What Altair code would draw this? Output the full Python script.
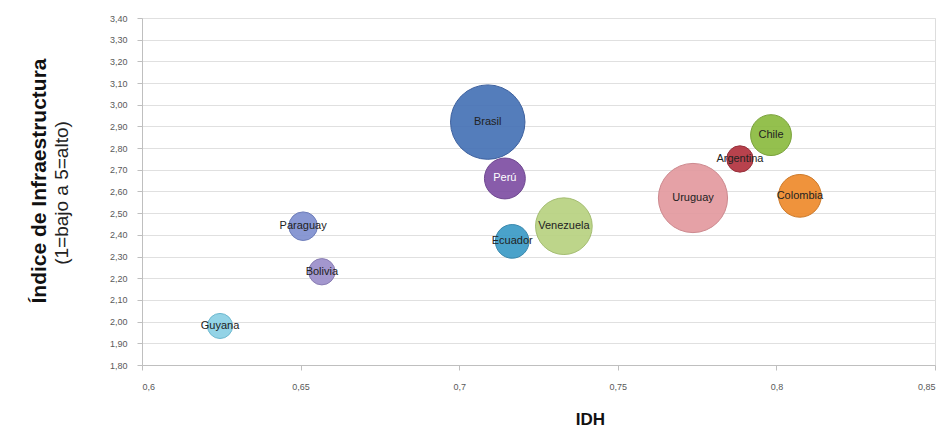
import altair as alt
import pandas as pd

paises = ["Brasil", "Uruguay", "Venezuela", "Colombia", "Perú", "Chile",
          "Ecuador", "Paraguay", "Bolivia", "Argentina", "Guyana"]
idh = [0.709, 0.7737, 0.733, 0.8074, 0.7144, 0.7983,
       0.7167, 0.6508, 0.6567, 0.7885, 0.6246]
infra = [2.92, 2.57, 2.44, 2.58, 2.66, 2.86,
         2.37, 2.44, 2.23, 2.75, 1.98]
tamano = [176, 152, 102, 58, 53, 53, 36, 26, 22, 22, 20]
colores = ["#4672b6", "#e39a9f", "#b8d281", "#ee8a2c", "#7e4fa3", "#8bbb40",
           "#3b9bc6", "#7f90d0", "#9c8fca", "#b3323e", "#8ad0e4"]
bordes = ["#2f5597", "#c97f85", "#9db866", "#c96f18", "#633888", "#6f9a2a",
          "#2a7ea6", "#6273b5", "#7f72ad", "#8e1f2a", "#62b3cc"]

y_ticks = [1.8, 1.9, 2.0, 2.1, 2.2, 2.3, 2.4, 2.5, 2.6, 2.7, 2.8,
           2.9, 3.0, 3.1, 3.2, 3.3, 3.4]
x_ticks = [0.6, 0.65, 0.7, 0.75, 0.8, 0.85]

df = pd.DataFrame({"pais": paises, "idh": idh, "infra": infra, "tamano": tamano})

FONT = "Liberation Sans"

x_enc = alt.X("idh:Q",
              scale=alt.Scale(domain=[0.6, 0.85], nice=False, zero=False),
              axis=alt.Axis(values=x_ticks, grid=False, title="IDH",
                            labelExpr="replace(format(datum.value, '.2~f'), '.', ',')",
                            labelFontSize=9, labelColor="#595959", labelPadding=12,
                            labelOverlap=False,
                            tickColor="#bfbfbf", tickSize=5, domainColor="#bfbfbf",
                            titleFontSize=17, titleFontWeight="bold", titleColor="#111",
                            titleX=448, titleY=59, titleBaseline="alphabetic",
                            titleFont=FONT, labelFont=FONT))
y_enc = alt.Y("infra:Q",
              scale=alt.Scale(domain=[1.8, 3.4], nice=False, zero=False),
              axis=alt.Axis(values=y_ticks, tickCount=17, grid=True, gridColor="#e0e0e0",
                            title=None, labelOverlap=False,
                            labelExpr="replace(format(datum.value, '.2f'), '.', ',')",
                            labelFontSize=9, labelColor="#595959", labelPadding=10,
                            tickColor="#bfbfbf", tickSize=5, domainColor="#bfbfbf",
                            labelFont=FONT))

base = alt.Chart(df)

burbujas = base.mark_circle(opacity=0.92, strokeWidth=1).encode(
    x=x_enc,
    y=y_enc,
    size=alt.Size("tamano:Q", scale=alt.Scale(domain=[0, 176], range=[0, 5542]), legend=None),
    color=alt.Color("pais:N", scale=alt.Scale(domain=paises, range=colores), legend=None),
    stroke=alt.Stroke("pais:N", scale=alt.Scale(domain=paises, range=bordes), legend=None),
)

etiquetas = base.mark_text(fontSize=11, font=FONT, align="center", baseline="middle").encode(
    x=x_enc,
    y=y_enc,
    text="pais:N",
    color=alt.condition(alt.datum.pais == "Perú", alt.value("white"), alt.value("#222222")),
)

titulo1 = alt.Chart(alt.Data(values=[{"t": "Índice de Infraestructura"}])).mark_text(
    angle=270, fontSize=21, fontWeight="bold", font=FONT, color="#111",
    align="center", baseline="middle"
).encode(x=alt.value(-102), y=alt.value(163), text="t:N")

titulo2 = alt.Chart(alt.Data(values=[{"t": "(1=bajo a 5=alto)"}])).mark_text(
    angle=270, fontSize=19, font=FONT, color="#222",
    align="center", baseline="middle"
).encode(x=alt.value(-80), y=alt.value(175), text="t:N")

chart = alt.layer(burbujas, etiquetas, titulo1, titulo2).properties(
    width=793, height=347,
    autosize=alt.AutoSizeParams(type="none"),
    padding={"left": 134, "top": 10, "right": 6, "bottom": 65},
).configure_view(stroke=None).configure(background="white")

chart.save("out.html", embed_options={"renderer": "svg", "actions": False})
